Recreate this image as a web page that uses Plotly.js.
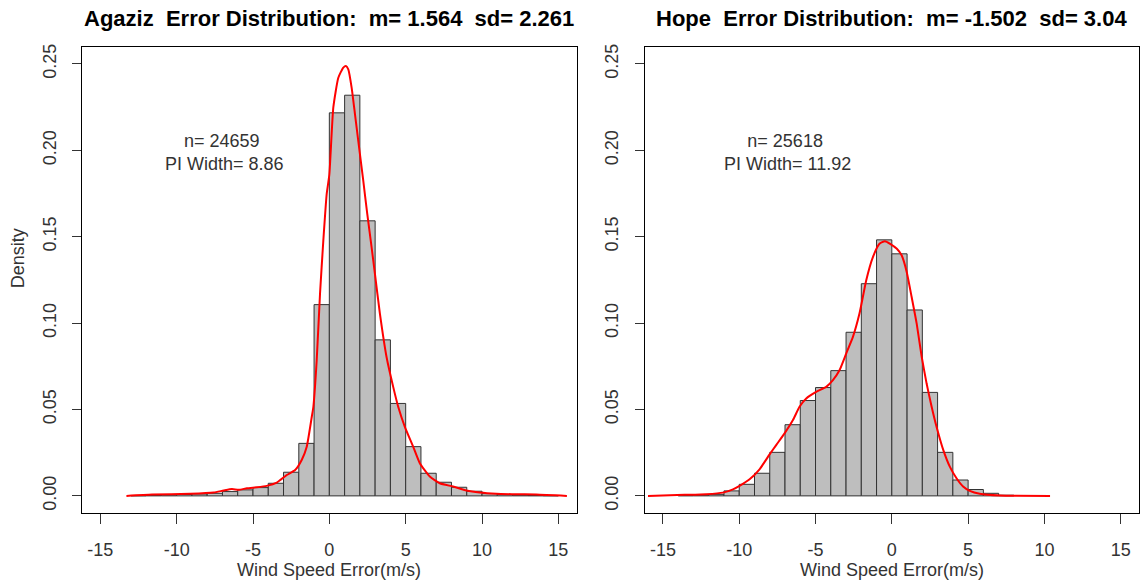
<!DOCTYPE html>
<html>
<head>
<meta charset="utf-8">
<script src="https://cdn.plot.ly/plotly-3.0.1.min.js"></script>
<style>html,body{margin:0;padding:0;background:#fff;}#chart{width:1143px;height:582px;}</style>
</head>
<body>
<div id="chart"></div>
<script>
// ---- Data ----
const leftTitle = "Agaziz  Error Distribution:  m= 1.564  sd= 2.261";
const rightTitle = "Hope  Error Distribution:  m= -1.502  sd= 3.04";
const leftNote = "n= 24659<br>\u00a0PI Width= 8.86";
const rightNote = "n= 25618<br>\u00a0PI Width= 11.92";
const xTitle = "Wind Speed Error(m/s)";
const yTitle = "Density";
const xTicks = [-15, -10, -5, 0, 5, 10, 15];
const yTicks = [0, 0.05, 0.10, 0.15, 0.20, 0.25];

// histogram bins (left edge of 1-unit bins) and densities
const leftBins = [-13,-12,-11,-10,-9,-8,-7,-6,-5,-4,-3,-2,-1,0,1,2,3,4,5,6,7,8,9,10,11,12,13,14];
const leftDensity = [0.0001,0.0003,0.0005,0.0008,0.0011,0.0015,0.0025,0.0035,0.0048,0.0073,0.0137,0.0304,0.1107,0.2217,0.2319,0.1592,0.0903,0.0535,0.0285,0.0131,0.0079,0.0050,0.0027,0.0013,0.0007,0.0004,0.0002,0.0001];

const rightBins = [-14,-13,-12,-11,-10,-9,-8,-7,-6,-5,-4,-3,-2,-1,0,1,2,3,4,5,6,7];
const rightDensity = [0.0002,0.0004,0.0009,0.0029,0.0067,0.0131,0.0252,0.0412,0.0552,0.0627,0.0725,0.0947,0.1228,0.1482,0.1401,0.1076,0.0599,0.0252,0.0092,0.0037,0.0015,0.0004];

// kernel density curves
const leftKdeX = [-13.29,-11.61,-9.1,-7.58,-6.93,-6.38,-5.95,-5.4,-4.75,-4.1,-3.44,-2.79,-2.24,-1.81,-1.48,-1.15,-1.046,-0.828,-0.61,-0.392,-0.174,0,0.261,0.588,0.915,1.089,1.242,1.46,1.678,1.895,2.222,2.484,2.767,2.985,3.312,3.747,4.183,4.51,4.946,5.49,5.926,6.58,7.233,8.105,8.976,9.85,10.94,12.0,13.55,15.56];
const leftKdeY = [0,0.0008,0.0012,0.0019,0.0031,0.0040,0.0035,0.0044,0.0050,0.0058,0.0077,0.0121,0.0150,0.0208,0.0285,0.0458,0.0516,0.0785,0.117,0.148,0.1747,0.186,0.2248,0.242,0.2479,0.2488,0.2469,0.2363,0.221,0.2055,0.1824,0.1632,0.144,0.1286,0.1055,0.0804,0.0631,0.0516,0.040,0.0285,0.0189,0.0112,0.0073,0.0054,0.0031,0.0019,0.0012,0.0010,0.0008,0];

const rightKdeX = [-15.98,-13.58,-12.16,-11.07,-10.41,-9.98,-9.32,-8.67,-8.01,-7.58,-7.03,-6.48,-6.05,-5.61,-4.96,-4.3,-3.86,-3.43,-2.99,-2.55,-2.12,-1.68,-1.24,-0.81,-0.45,-0.11,0.33,0.65,0.98,1.3,1.63,1.96,2.28,2.61,2.93,3.37,3.8,4.24,4.67,5.11,5.76,7.07,10.37];
const rightKdeY = [0,0.0006,0.0010,0.0019,0.0038,0.0058,0.0096,0.0154,0.0240,0.0294,0.0362,0.0439,0.0516,0.0564,0.0602,0.0631,0.0670,0.0727,0.0824,0.0920,0.1055,0.1247,0.1382,0.1459,0.1474,0.1459,0.1430,0.1391,0.1295,0.1151,0.0997,0.0804,0.0650,0.0516,0.0400,0.0266,0.0169,0.0102,0.0054,0.0029,0.0012,0.0002,0];

// ---- Styling ----
const FONT = "'Liberation Sans', Arial, Helvetica, sans-serif";
const TXT = "#333";

function bars(x, y, xa, ya) {
  return {type: 'bar', x: x, y: y, width: 1, offset: 0, xaxis: xa, yaxis: ya,
    marker: {color: '#bebebe', line: {color: '#333', width: 1}}, hoverinfo: 'skip'};
}
function kde(x, y, xa, ya) {
  return {type: 'scatter', mode: 'lines', x: x, y: y, xaxis: xa, yaxis: ya,
    line: {color: '#ff0000', width: 2, shape: 'spline', smoothing: 0.5}, hoverinfo: 'skip'};
}

const xBase = {
  range: [-16.2, 16.2], tickvals: xTicks, ticktext: xTicks.map(String),
  ticks: 'outside', ticklen: 10, tickwidth: 1, tickcolor: '#333',
  showline: true, mirror: true, linecolor: '#000', linewidth: 1,
  showgrid: false, zeroline: false, ticklabelstandoff: 10,
  tickfont: {family: FONT, size: 18, color: TXT}
};
const yBase = {
  range: [-0.0099, 0.2598], tickvals: yTicks, tickformat: '.2f', tickangle: -90,
  ticks: 'outside', ticklen: 9, tickwidth: 1, tickcolor: '#333',
  showline: true, mirror: true, linecolor: '#000', linewidth: 1,
  showgrid: false, zeroline: false, ticklabelstandoff: 9,
  tickfont: {family: FONT, size: 18, color: TXT}
};

const data = [
  bars(leftBins, leftDensity, 'x', 'y'),
  kde(leftKdeX, leftKdeY, 'x', 'y'),
  bars(rightBins, rightDensity, 'x2', 'y2'),
  kde(rightKdeX, rightKdeY, 'x2', 'y2')
];

const titleFont = {family: FONT, size: 22, color: '#000', weight: 'bold'};
const noteFont = {family: FONT, size: 18, color: TXT};

const layout = {
  width: 1143, height: 582,
  margin: {l: 82, r: 4, t: 47, b: 69, pad: 0},
  paper_bgcolor: '#fff', plot_bgcolor: '#fff',
  showlegend: false, bargap: 0,
  font: {family: FONT, color: TXT},
  xaxis: Object.assign({}, xBase, {domain: [0, 0.468], anchor: 'y'}),
  yaxis: Object.assign({}, yBase, {anchor: 'x'}),
  xaxis2: Object.assign({}, xBase, {domain: [0.5323, 1], anchor: 'y2'}),
  yaxis2: Object.assign({}, yBase, {anchor: 'x2'}),
  annotations: [
    {text: '<b>' + leftTitle + '</b>', xref: 'x', x: 0, yref: 'paper', y: 1.0616, yanchor: 'middle', xanchor: 'center', showarrow: false, font: titleFont},
    {text: '<b>' + rightTitle + '</b>', xref: 'x2', x: 0, yref: 'paper', y: 1.0616, yanchor: 'middle', xanchor: 'center', showarrow: false, font: titleFont},
    {text: leftNote, xref: 'x', x: -7, yref: 'y', y: 0.199, xanchor: 'center', yanchor: 'middle', align: 'center', showarrow: false, font: noteFont},
    {text: rightNote, xref: 'x2', x: -7, yref: 'y2', y: 0.199, xanchor: 'center', yanchor: 'middle', align: 'center', showarrow: false, font: noteFont},
    {text: xTitle, xref: 'x', x: 0, yref: 'paper', y: -0.123, xanchor: 'center', yanchor: 'middle', showarrow: false, font: {family: FONT, size: 18, color: TXT}},
    {text: xTitle, xref: 'x2', x: 0, yref: 'paper', y: -0.123, xanchor: 'center', yanchor: 'middle', showarrow: false, font: {family: FONT, size: 18, color: TXT}},
    {text: yTitle, xref: 'paper', x: -0.0605, yref: 'paper', y: 0.5466, xanchor: 'center', yanchor: 'middle', textangle: -90, showarrow: false, font: {family: FONT, size: 18, color: TXT}}
  ]
};

Plotly.newPlot('chart', data, layout, {displayModeBar: false, staticPlot: true});
</script>
</body>
</html>
